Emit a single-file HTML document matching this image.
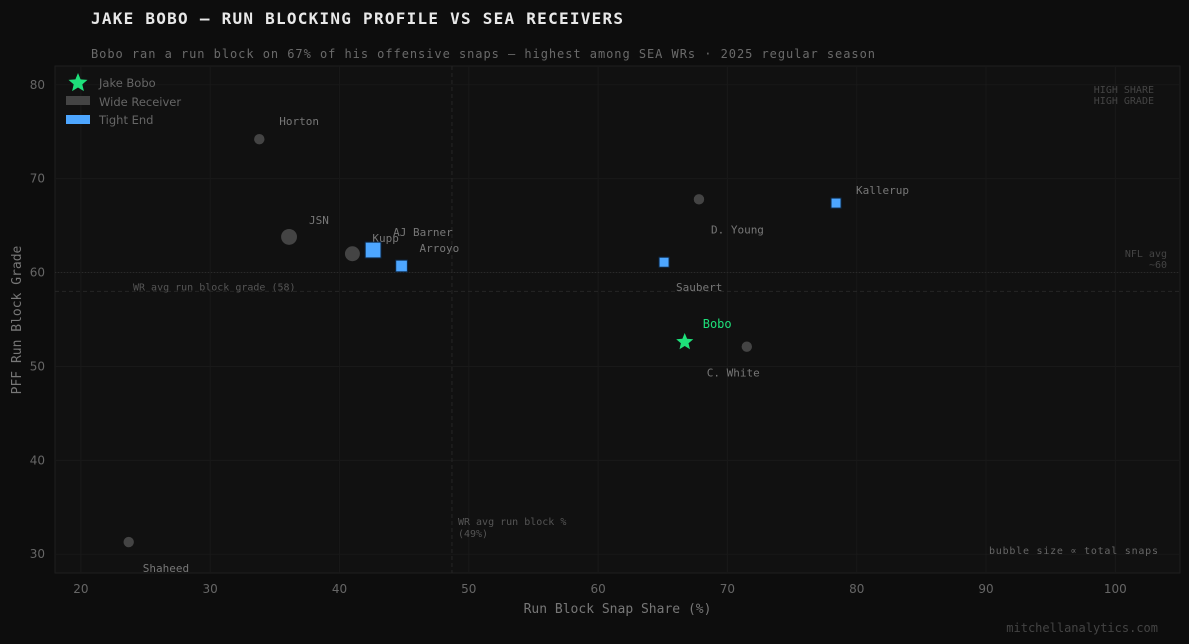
<!DOCTYPE html>
<html><head><meta charset="utf-8"><style>
html,body{margin:0;padding:0;background:#0d0d0d;}
svg{display:block;}
</style></head><body>
<svg id="chart" width="1189" height="644" xmlns="http://www.w3.org/2000/svg">
<rect width="1189" height="644" fill="#0d0d0d"/>
<text x="91" y="24" fill="#e8e8e8" font-family="DejaVu Sans Mono, monospace" font-size="16" font-weight="bold" textLength="532" lengthAdjust="spacing">JAKE BOBO — RUN BLOCKING PROFILE VS SEA RECEIVERS</text>
<text x="91" y="58" fill="#6a6a6a" font-family="DejaVu Sans Mono, monospace" font-size="12" textLength="784" lengthAdjust="spacing">Bobo ran a run block on 67% of his offensive snaps — highest among SEA WRs  ·  2025 regular season</text>
<rect x="55" y="66" width="1125" height="507" fill="#111111" stroke="#1e1e1e"/>
<g id="grid"></g><g id="marks"></g><g id="axes"></g>
<text x="1158" y="632" text-anchor="end" fill="#444" font-family="DejaVu Sans Mono, monospace" font-size="12">mitchellanalytics.com</text>
</svg>
<script>
const names=["Horton","JSN","Kupp","AJ Barner","Arroyo","D. Young","Kallerup","Saubert","Bobo","C. White","Shaheed"];
const types=["WR","WR","WR","TE","TE","WR","TE","TE","Bobo","WR","WR"];
const runShare=[33.8,36.1,41.0,42.6,44.8,67.8,78.4,65.1,66.7,71.5,23.7];
const grade=[74.2,63.8,62.0,62.4,60.7,67.8,67.4,61.1,52.6,52.1,31.3];
const snaps=[300,700,620,820,450,300,330,330,500,300,300];
const labelDx=[20,20,20,20,18,12,20,12,18,-40,14];
const labelDy=[-18,-17,-16,-18,-18,30,-13,25,-18,26,26];
const xTicks=[20,30,40,50,60,70,80,90,100];
const yTicks=[30,40,50,60,70,80];
const wrAvgGrade=58, wrAvgRun=48.7, nflAvg=60;

const NS="http://www.w3.org/2000/svg";
const X0=55,X1=1180,Y0=573,Y1=66,xmin=18,xmax=105,ymin=28,ymax=82;
const sx=v=>X0+(v-xmin)/(xmax-xmin)*(X1-X0);
const sy=v=>Y0-(v-ymin)/(ymax-ymin)*(Y0-Y1);
function mk(tag,attrs,parent,text){const e=document.createElementNS(NS,tag);for(const k in attrs)e.setAttribute(k,attrs[k]);if(text!==undefined)e.textContent=text;parent.appendChild(e);return e;}
const grid=document.getElementById('grid'),marks=document.getElementById('marks'),axes=document.getElementById('axes');
const sans="DejaVu Sans, sans-serif",mono="DejaVu Sans Mono, monospace";
xTicks.forEach(t=>{
  const l=mk('line',{x1:sx(t),x2:sx(t),y1:Y1,y2:Y0,stroke:'#191919'},grid);
  
  const tx=mk('text',{x:sx(t),y:Y0+20,'text-anchor':'middle',fill:'#666','font-family':sans,'font-size':12},axes,String(t));
  
});
yTicks.forEach(t=>{
  const l=mk('line',{x1:X0,x2:X1,y1:sy(t),y2:sy(t),stroke:'#191919'},grid);
  
  const tx=mk('text',{x:X0-10,y:sy(t)+4,'text-anchor':'end',fill:'#666','font-family':sans,'font-size':12},axes,String(t));
  
});
let e;
e=mk('line',{x1:X0,x2:X1,y1:sy(nflAvg),y2:sy(nflAvg),stroke:'#2a2a2a','stroke-dasharray':'1,2'},grid);

e=mk('line',{x1:X0,x2:X1,y1:sy(wrAvgGrade),y2:sy(wrAvgGrade),stroke:'#262626','stroke-dasharray':'4,3'},grid);

e=mk('line',{x1:sx(wrAvgRun),x2:sx(wrAvgRun),y1:Y1,y2:Y0,stroke:'#262626','stroke-dasharray':'4,3'},grid);

function ann(x,y,txt,name,anchor,fill,len){const a={x:x,y:y,fill:fill||'#555','font-family':mono,'font-size':10,'text-anchor':anchor||'start'};if(len){a.textLength=len;a.lengthAdjust='spacing';}const t=mk('text',a,axes,txt);}
ann(133,sy(wrAvgGrade)-1,'WR avg run block grade (58)','wr-avg-grade-label');
ann(sx(wrAvgRun)+6,525,'WR avg run block %','wr-avg-run-label');
ann(sx(wrAvgRun)+6,537,'(49%)','wr-avg-run-value');
ann(1167,257,'NFL avg','nfl-avg-label','end','#444');
ann(1167,268,'~60','nfl-avg-value','end','#444');
ann(1154,93,'HIGH SHARE','quadrant-label','end','#444');
ann(1154,104,'HIGH GRADE','quadrant-label-2','end','#444');
ann(989,554,'bubble size ∝ total snaps','size-note','start','#666',169);
function star(cx,cy,R,r){let p=[];for(let i=0;i<10;i++){const a=-Math.PI/2+i*Math.PI/5,rr=i%2?r:R;p.push((cx+rr*Math.cos(a)).toFixed(1)+','+(cy+rr*Math.sin(a)).toFixed(1));}return p.join(' ');}
names.forEach((n,i)=>{
  const cx=sx(runShare[i]),cy=sy(grade[i]);let m;
  if(types[i]==='WR'){m=mk('circle',{cx:cx,cy:cy,r:Math.sqrt(snaps[i])*0.3,fill:'#444'},marks);}
  else if(types[i]==='TE'){const s=Math.sqrt(snaps[i])*0.55;m=mk('rect',{x:cx-s/2,y:cy-s/2,width:s,height:s,fill:'#4da6ff',stroke:'#0d2a4a'},marks);}
  else{m=mk('polygon',{points:star(cx,cy,9,4),fill:'#1ee07a'},marks);}
  
  
  const lab=mk('text',{x:cx+labelDx[i],y:cy+labelDy[i]+4,fill:types[i]==='Bobo'?'#1ee07a':'#777','font-family':mono,'font-size':types[i]==='Bobo'?12:11},marks,n);
  
  
});
e=mk('text',{x:(X0+X1)/2,y:613,'text-anchor':'middle',fill:'#777','font-family':mono,'font-size':13},axes,'Run Block Snap Share (%)');

e=mk('text',{x:21,y:320,'text-anchor':'middle',fill:'#777','font-family':mono,'font-size':13,transform:'rotate(-90 21 320)'},axes,'PFF Run Block Grade');

e=mk('polygon',{points:star(78,83,10,4.5),fill:'#1ee07a'},axes);
e=mk('rect',{x:66,y:96,width:24,height:9,fill:'#444'},axes);
e=mk('rect',{x:66,y:115,width:24,height:9,fill:'#4da6ff'},axes);
[['Jake Bobo',87],['Wide Receiver',106],['Tight End',124]].forEach(([t,y])=>{
  const l=mk('text',{x:99,y:y,fill:'#666','font-family':sans,'font-size':11.5},axes,t);
  
});
</script>
</body></html>
